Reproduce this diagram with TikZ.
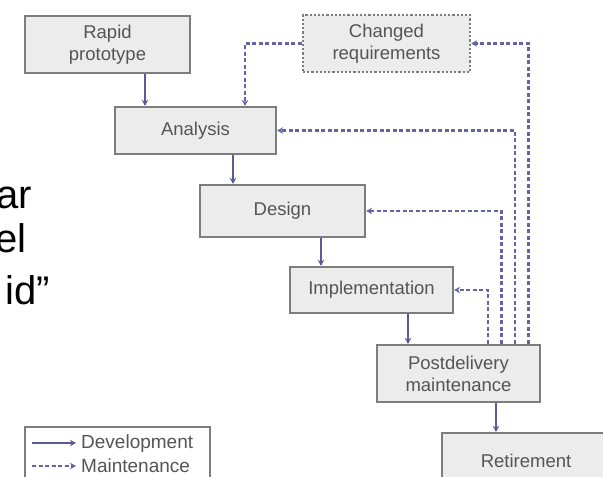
\documentclass[tikz,border=0pt]{standalone}
\usepackage{fontspec}
\setmainfont{Liberation Sans}
\usetikzlibrary{arrows.meta}
\definecolor{boxfill}{RGB}{236,236,236}
\definecolor{boxline}{RGB}{125,125,125}
\definecolor{boxtext}{RGB}{85,85,85}
\definecolor{devline}{RGB}{90,90,155}
\definecolor{mntline}{RGB}{100,100,165}
\begin{document}
\begin{tikzpicture}[x=1pt, y=-1pt,
	phase/.style={draw=boxline, line width=2.2pt, fill=boxfill, text=boxtext, font=\fontsize{18.5}{22}\selectfont, align=center, inner sep=0pt},
	dev/.style={draw=devline, line width=2pt, -{Stealth[length=6pt,width=6.5pt]}},
	mnt/.style={dev, draw=mntline, line width=2.4pt, dash pattern=on 4pt off 2.5pt},
	big/.style={anchor=base east, inner sep=0pt, font=\fontsize{40}{40}\selectfont}]
	\useasboundingbox (0,0) rectangle (603,477);
	\node (ar) at (32, 208)		[big]	{ar};
	\node (el) at (27, 252)		[big]	{el};
	\node (id) at (50, 304)		[big]	{id”};
	\node (rapid) at (107.5, 44.5)		[phase, minimum width=165pt, minimum height=57pt]	{Rapid\\prototype};
	\node (changed) at (386.5, 43.5)	[phase, dotted, minimum width=167pt, minimum height=57pt]	{Changed\\requirements};
	\node (analysis) at (195.5, 130.5)	[phase, minimum width=161pt, minimum height=47pt]	{Analysis};
	\node (design) at (282.5, 211)		[phase, minimum width=165pt, minimum height=52pt]	{Design};
	\node (impl) at (371.5, 290)		[phase, minimum width=163pt, minimum height=46pt]	{Implementation};
	\node (post) at (458.5, 373.5)		[phase, minimum width=163pt, minimum height=57pt]	{Postdelivery\\maintenance};
	\node (retire) at (526, 461)		[phase, minimum width=168pt, minimum height=56pt]	{Retirement};
	\node (legend) at (117.5, 460)		[draw=boxline, line width=1.5pt, fill=white, minimum width=185pt, minimum height=66pt]	{};
	\draw[dev] ([xshift=37.5pt]rapid.south) -- ([xshift=37.5pt]rapid.south |- analysis.north);
	\draw[dev] ([xshift=37.5pt]analysis.south) -- ([xshift=37.5pt]analysis.south |- design.north);
	\draw[dev] ([xshift=38.5pt]design.south) -- ([xshift=38.5pt]design.south |- impl.north);
	\draw[dev] ([xshift=36.5pt]impl.south) -- ([xshift=36.5pt]impl.south |- post.north);
	\draw[dev] ([xshift=37.5pt]post.south) -- ([xshift=37.5pt]post.south |- retire.north);
	\draw[mnt] ([xshift=29.5pt]post.north) |- (impl.east);
	\draw[mnt] ([xshift=43pt]post.north) |- (design.east);
	\draw[mnt] ([xshift=56.5pt]post.north) |- (analysis.east);
	\draw[mnt] ([xshift=70pt]post.north) |- (changed.east);
	\draw[mnt] (changed.west) -| ([xshift=49.5pt]analysis.north);
	\coordinate (d0) at (32, 443);
	\coordinate (d1) at (76, 443);
	\coordinate (m0) at (32, 466);
	\coordinate (m1) at (76, 466);
	\draw[dev] (d0) -- (d1);
	\draw[mnt] (m0) -- (m1);
	\node (devtext) at (81, 443.5)	[anchor=west, inner sep=0pt, text=boxtext, font=\fontsize{19}{19}\selectfont]	{Development};
	\node (mnttext) at (81, 466)	[anchor=west, inner sep=0pt, text=boxtext, font=\fontsize{19}{19}\selectfont]	{Maintenance};
\end{tikzpicture}
\end{document}
